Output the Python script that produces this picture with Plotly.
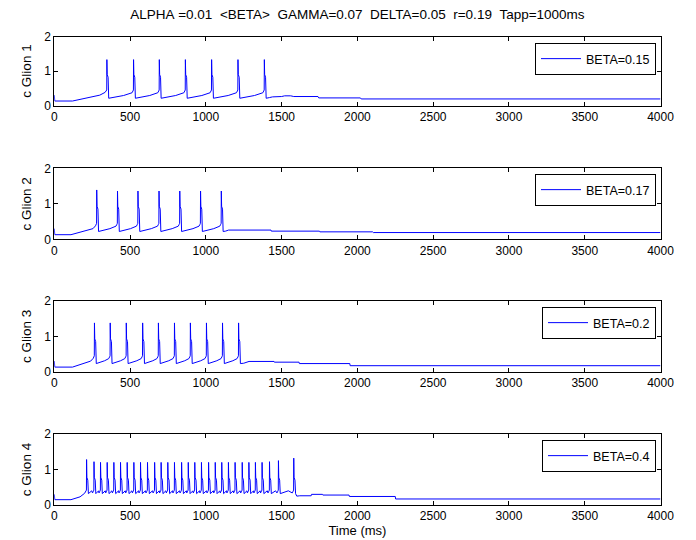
import plotly.graph_objects as go

# ---------------- data ----------------
title_text = "ALPHA =0.01  <BETA>  GAMMA=0.07  DELTA=0.05  r=0.19  Tapp=1000ms"
y_titles = ["c Glion 1", "c Glion 2", "c Glion 3", "c Glion 4"]
legend_names = ["BETA=0.15", "BETA=0.17", "BETA=0.2", "BETA=0.4"]
x_ticks = [0, 500, 1000, 1500, 2000, 2500, 3000, 3500, 4000]
y_ticks = [0, 1, 2]

# spike times (ms) and peak values
spikes_1 = [347, 523, 693, 865, 1038, 1212, 1386]
peaks_1 = [1.33, 1.33, 1.33, 1.33, 1.33, 1.33, 1.33]
spikes_2 = [280, 417, 552, 691, 828, 965, 1102]
peaks_2 = [1.39, 1.36, 1.36, 1.36, 1.36, 1.36, 1.36]
spikes_3 = [265, 369, 475, 583, 687, 793, 898, 1004, 1110, 1216]
peaks_3 = [1.38, 1.38, 1.38, 1.38, 1.38, 1.38, 1.38, 1.38, 1.38, 1.38]
spikes_4 = [213, 262, 305, 349, 393, 437, 481, 525, 569, 615, 662, 705, 749,
            793, 840, 884, 927, 971, 1018, 1062, 1105, 1149, 1193, 1240, 1284,
            1327, 1371, 1420, 1479, 1580]
peaks_4 = [1.28, 1.22, 1.2, 1.2, 1.2, 1.2, 1.2, 1.2, 1.2, 1.2, 1.2, 1.2, 1.2,
           1.2, 1.2, 1.2, 1.2, 1.2, 1.2, 1.2, 1.2, 1.2, 1.2, 1.2, 1.2,
           1.2, 1.2, 1.22, 1.25, 1.32]

# levels around each spike: [pre-spike, shoulder, trough]
levels_1 = [0.45, 0.82, 0.21]
levels_2 = [0.45, 0.85, 0.22]
levels_3 = [0.45, 0.85, 0.23]
levels_4 = [0.42, 0.70, 0.32]

# slow parts before the first spike and after the last spike (t, c)
onset_t_1 = [0, 3, 120, 200, 300, 335]
onset_c_1 = [0.30, 0.13, 0.13, 0.20, 0.30, 0.38]
onset_t_2 = [0, 3, 110, 190, 255, 272]
onset_c_2 = [0.30, 0.13, 0.13, 0.22, 0.30, 0.38]
onset_t_3 = [0, 3, 120, 190, 240, 257]
onset_c_3 = [0.30, 0.13, 0.13, 0.22, 0.30, 0.38]
onset_t_4 = [0, 3, 110, 170, 200, 208]
onset_c_4 = [0.30, 0.15, 0.15, 0.23, 0.33, 0.38]

tail_t_1 = [1420, 1440, 1500, 1520, 1560, 1580, 1740, 1745, 2020, 2025, 4000]
tail_c_1 = [0.23, 0.25, 0.26, 0.28, 0.28, 0.26, 0.26, 0.22, 0.22, 0.19, 0.19]
tail_t_2 = [1130, 1150, 1430, 1432, 1750, 1752, 2100, 2105, 4000]
tail_c_2 = [0.23, 0.26, 0.26, 0.23, 0.23, 0.21, 0.21, 0.19, 0.19]
tail_t_3 = [1250, 1285, 1450, 1452, 1615, 1617, 1950, 1952, 4000]
tail_c_3 = [0.24, 0.29, 0.29, 0.27, 0.27, 0.23, 0.23, 0.17, 0.17]
tail_t_4 = [1600, 1620, 1695, 1697, 1770, 1772, 1945, 1947, 2250, 2252, 4000]
tail_c_4 = [0.25, 0.26, 0.26, 0.30, 0.30, 0.28, 0.28, 0.24, 0.24, 0.17, 0.17]


def build(spikes, peaks, levels, onset_t, onset_c, tail_t, tail_c):
    pre, shoulder, trough = levels
    t = list(onset_t)
    c = list(onset_c)
    n = len(spikes)
    for i, (ts, pk) in enumerate(zip(spikes, peaks)):
        t += [ts - 1, ts, ts + 2, ts + 8, ts + 12]
        c += [pre, pk, shoulder + 0.08, shoulder, trough]
        if i < n - 1:
            nx = spikes[i + 1]
            gap = nx - ts
            t += [ts + 12 + (gap - 12) * 0.6, nx - 10, nx - 4]
            c += [trough + 0.08, pre - 0.08, pre - 0.03]
    t += list(tail_t)
    c += list(tail_c)
    return t, c


panels = [
    build(spikes_1, peaks_1, levels_1, onset_t_1, onset_c_1, tail_t_1, tail_c_1),
    build(spikes_2, peaks_2, levels_2, onset_t_2, onset_c_2, tail_t_2, tail_c_2),
    build(spikes_3, peaks_3, levels_3, onset_t_3, onset_c_3, tail_t_3, tail_c_3),
    build(spikes_4, peaks_4, levels_4, onset_t_4, onset_c_4, tail_t_4, tail_c_4),
]

# ---------------- layout geometry ----------------
# the page body has an 8px margin, so the figure is 8px smaller and all
# reference pixel positions are shifted by 8px
OFF = 8
W, H = 696 - OFF, 540 - OFF
x_left, x_right = 54.3 - OFF, 660.5 - OFF
panel_px = [(36.5, 105.5), (168.3, 239.3), (301.0, 371.7), (434.0, 505.0)]
legend_px = [(656, 43), (656, 174), (656, 307), (656, 440)]

FONT = "Liberation Sans, Arial, Helvetica, sans-serif"

fig = go.Figure()
layout = dict(
    width=W, height=H,
    margin=dict(l=0, r=0, t=0, b=0, autoexpand=False),
    paper_bgcolor="white", plot_bgcolor="white",
    font=dict(family=FONT, size=12, color="black"),
    showlegend=True,
)

for i, (tt, cc) in enumerate(panels):
    k = "" if i == 0 else str(i + 1)
    lg = "legend" + k
    fig.add_trace(go.Scatter(
        x=tt, y=cc, mode="lines", name=legend_names[i],
        line=dict(color="#0000ff", width=1),
        xaxis="x" + k, yaxis="y" + k, legend=lg,
    ))
    top, bot = panel_px[i]
    top -= OFF
    bot -= OFF
    dom_y = [1 - bot / H, 1 - top / H]
    ax_common = dict(
        showline=True, linecolor="black", linewidth=1, mirror="ticks",
        ticks="inside", ticklen=4, tickcolor="black", tickwidth=1,
        showgrid=False, zeroline=False, automargin=False,
        tickfont=dict(family=FONT, size=12, color="black"),
    )
    layout["xaxis" + k] = dict(
        domain=[x_left / W, x_right / W], range=[0, 4000],
        tickvals=x_ticks, anchor="y" + k, **ax_common,
    )
    if i == 3:
        layout["xaxis" + k]["title"] = dict(
            text="Time (ms)", font=dict(family=FONT, size=13), standoff=2)
    layout["yaxis" + k] = dict(
        domain=dom_y, range=[0, 2], tickvals=y_ticks, anchor="x" + k,
        title=dict(text=y_titles[i], font=dict(family=FONT, size=13.5), standoff=9),
        **ax_common,
    )
    lx, ly = legend_px[i]
    layout[lg] = dict(
        x=(lx - OFF) / W, y=1 - (ly - OFF) / H, xanchor="right", yanchor="top",
        xref="paper", yref="paper",
        bordercolor="black", borderwidth=1, bgcolor="white",
        font=dict(family=FONT, size=12.5, color="black"),
        itemwidth=40, tracegroupgap=0,
    )

layout["title"] = dict(
    text=title_text.replace(" ", "\u00a0"),
    x=(x_left + x_right) / 2 / W, xanchor="center",
    y=1 - (14 - OFF) / H, yanchor="middle",
    font=dict(family=FONT, size=13.5, color="black"),
)

fig.update_layout(**layout)
fig.write_html("out.html")
